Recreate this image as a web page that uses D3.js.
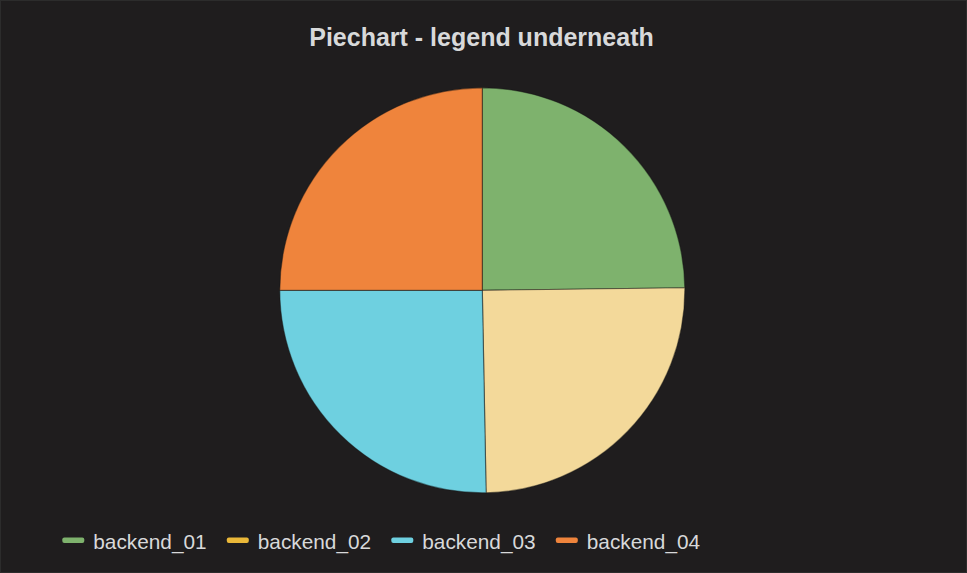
<!DOCTYPE html>
<html>
<head>
<meta charset="utf-8">
<script src="https://cdn.jsdelivr.net/npm/d3@7"></script>
<style>
  html, body { margin: 0; padding: 0; background: #1f1d1e; }
  svg { display: block; }
</style>
</head>
<body>
<svg id="chart" width="967" height="573"></svg>
<script>
const title = "Piechart - legend underneath";
const categories = ["backend_01", "backend_02", "backend_03", "backend_04"];
const values = [24.8, 24.9, 25.3, 25.0];
const sliceColors = ["#7EB26D", "#F3D99A", "#6ED0E0", "#EF843C"];
const legendColors = ["#7EB26D", "#EAB839", "#6ED0E0", "#EF843C"];

const W = 967, H = 573;
const svg = d3.select("#chart");

svg.append("rect")
  .attr("x", 0.5).attr("y", 0.5)
  .attr("width", W - 1).attr("height", H - 1)
  .attr("fill", "#1f1d1e")
  .attr("stroke", "#2c2c2c").attr("stroke-width", 1);

svg.append("text")
  .attr("x", 481.5).attr("y", 45.7)
  .attr("text-anchor", "middle")
  .attr("font-family", "Liberation Sans, Arial, sans-serif")
  .attr("font-weight", "bold")
  .attr("font-size", 25)
  .attr("fill", "#d8d9da")
  .text(title);

const data = categories.map((c, i) => ({ name: c, value: values[i], color: sliceColors[i] }));
const pie = d3.pie().sort(null).value(d => d.value);
const arc = d3.arc().innerRadius(0).outerRadius(202.5);

const g = svg.append("g").attr("transform", "translate(482.3,290.3)");
g.selectAll("path")
  .data(pie(data))
  .join("path")
  .attr("d", arc)
  .attr("fill", d => d.data.color)
  .attr("stroke", "rgba(20,20,20,0.45)")
  .attr("stroke-width", 1.2);

const legend = svg.append("g");
const itemX = [62.3, 226.8, 391.3, 555.8];
const items = legend.selectAll("g")
  .data(categories)
  .join("g")
  .attr("transform", (d, i) => `translate(${itemX[i]},0)`);
items.append("rect")
  .attr("x", 0).attr("y", 537.5)
  .attr("width", 22).attr("height", 5.5)
  .attr("rx", 2)
  .attr("fill", (d, i) => legendColors[i]);
items.append("text")
  .attr("x", 31).attr("y", 548.8)
  .attr("font-family", "Liberation Sans, Arial, sans-serif")
  .attr("font-size", 20.8)
  .attr("fill", "#d8d9da")
  .text(d => d);
</script>
</body>
</html>
